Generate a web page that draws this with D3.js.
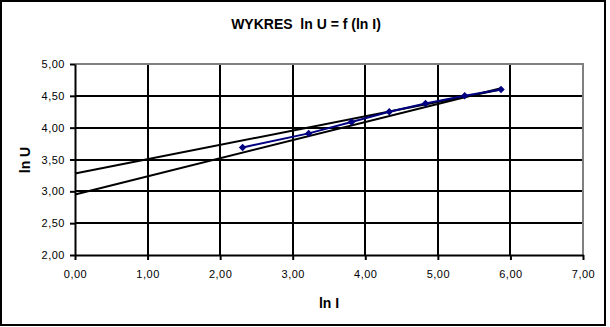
<!DOCTYPE html>
<html>
<head>
    <title>WYKRES ln U = f (ln I)</title>
    <script src="https://d3js.org/d3.v7.min.js"></script>
    <style>
        body { margin: 0; background: #fff; }
        text { font-family: "Liberation Sans", Arial, sans-serif; }
        .tick text { font-size: 11px; letter-spacing: 0.5px; fill: #000; }
        .grid line { stroke: #000; stroke-width: 2px; shape-rendering: crispEdges; }
    </style>
</head>
<body>
    <svg id="chart"></svg>

    <script>
        // measured points (ln I, ln U)
        var lnI = [2.31, 3.22, 3.81, 4.33, 4.83, 5.37, 5.87];
        var lnU = [3.69, 3.91, 4.09, 4.25, 4.38, 4.50, 4.60];

        // two straight lines drawn on the chart
        var line1X = [0, 5.87], line1Y = [3.28, 4.60];
        var line2X = [0, 5.87], line2Y = [2.95, 4.62];

        var xTicks = [0, 1, 2, 3, 4, 5, 6, 7];
        var yTicks = [2, 2.5, 3, 3.5, 4, 4.5, 5];

        var W = 610, H = 327;
        var margin = {top: 64, right: 27, bottom: 72, left: 75},
            width = W - margin.left - margin.right,
            height = H - margin.top - margin.bottom;

        var svg = d3.select("#chart")
            .attr("width", W)
            .attr("height", H);

        // outer frame
        svg.append("rect")
            .attr("x", 1).attr("y", 1)
            .attr("width", 604).attr("height", 324)
            .attr("fill", "#fff")
            .attr("stroke", "#000")
            .attr("stroke-width", 2);

        var g = svg.append("g")
            .attr("transform", "translate(" + margin.left + "," + margin.top + ")");

        var x = d3.scaleLinear().domain([0, 7]).range([0, width]);
        var y = d3.scaleLinear().domain([2, 5]).range([height, 0]);
        var fmt = function(d) { return d3.format(".2f")(d).replace(".", ","); };

        // gridlines
        g.append("g").attr("class", "grid")
            .selectAll("line").data(xTicks.slice(1, -1)).enter().append("line")
            .attr("x1", function(d) { return Math.round(x(d)); })
            .attr("x2", function(d) { return Math.round(x(d)); })
            .attr("y1", 0).attr("y2", height);
        g.append("g").attr("class", "grid")
            .selectAll("line").data(yTicks.slice(1, -1)).enter().append("line")
            .attr("y1", function(d) { return Math.round(y(d)); })
            .attr("y2", function(d) { return Math.round(y(d)); })
            .attr("x1", 0).attr("x2", width);

        // top and right border of plot area in grey
        g.append("path")
            .attr("d", "M0,0H" + width + "V" + height)
            .attr("fill", "none")
            .attr("stroke", "#808080")
            .attr("stroke-width", 2);

        var xAxis = d3.axisBottom(x).tickValues(xTicks).tickFormat(fmt).tickSize(5).tickSizeOuter(0).tickPadding(10);
        var yAxis = d3.axisLeft(y).tickValues(yTicks).tickFormat(fmt).tickSize(5).tickSizeOuter(0).tickPadding(5);

        var gx = g.append("g")
            .attr("transform", "translate(0," + height + ")")
            .call(xAxis);
        var gy = g.append("g").call(yAxis);
        [gx, gy].forEach(function(a) {
            a.selectAll("path, line").attr("stroke", "#000").attr("stroke-width", 2);
        });

        var lineGen = d3.line()
            .x(function(d) { return x(d[0]); })
            .y(function(d) { return y(d[1]); });

        g.append("path")
            .datum(d3.zip(line1X, line1Y))
            .attr("d", lineGen)
            .attr("fill", "none").attr("stroke", "#000").attr("stroke-width", 2);
        g.append("path")
            .datum(d3.zip(line2X, line2Y))
            .attr("d", lineGen)
            .attr("fill", "none").attr("stroke", "#000").attr("stroke-width", 2);

        var pts = d3.zip(lnI, lnU);
        g.append("path")
            .datum(pts)
            .attr("d", lineGen)
            .attr("fill", "none").attr("stroke", "#000080").attr("stroke-width", 2);

        g.selectAll(".pt")
            .data(pts)
            .enter().append("path")
            .attr("class", "pt")
            .attr("transform", function(d) { return "translate(" + x(d[0]) + "," + y(d[1]) + ")"; })
            .attr("d", d3.symbol().type(d3.symbolDiamond2).size(36))
            .attr("fill", "#000080");

        // titles
        svg.append("text")
            .attr("x", 306).attr("y", 29)
            .attr("text-anchor", "middle")
            .attr("font-size", "14px").attr("font-weight", "bold")
            .attr("xml:space", "preserve")
            .text("WYKRES  ln U = f (ln I)");

        svg.append("text")
            .attr("x", 329).attr("y", 308)
            .attr("text-anchor", "middle")
            .attr("font-size", "14px").attr("font-weight", "bold")
            .text("ln I");

        svg.append("text")
            .attr("transform", "translate(30,160) rotate(-90)")
            .attr("text-anchor", "middle")
            .attr("font-size", "14px").attr("font-weight", "bold")
            .text("ln U");
    </script>
</body>
</html>
